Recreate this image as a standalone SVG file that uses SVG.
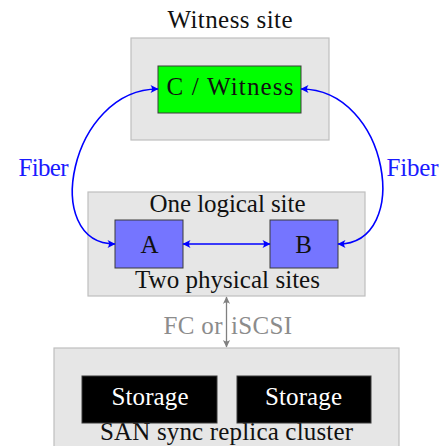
<svg xmlns="http://www.w3.org/2000/svg" width="447" height="446" viewBox="0 0 447 446">
  <style>
    .site { fill: #e6e6e6; stroke: #bfbfbf; stroke-width: 1.2; }
    .node { stroke: #3a3a3a; stroke-width: 1; }
    .lbl { font-family: "Liberation Serif", "Times New Roman", serif; font-size: 25px; fill: #111; text-anchor: middle; }
    .fiber { fill: #1a1aff; }
    .proto { fill: #8c8c8c; text-anchor: start; }
    .store { fill: #ffffff; }
    .link { fill: none; stroke: #0000ff; stroke-width: 1.6; }
    .wire { fill: none; stroke: #808080; stroke-width: 1.3; }
  </style>
  <defs>
    <marker id="tip-blue" viewBox="-9 -5 10 10" refX="0" refY="0" markerWidth="10" markerHeight="10" markerUnits="userSpaceOnUse" orient="auto-start-reverse">
      <path d="M0.5,0 L-7.5,-4 Q-4.5,0 -7.5,4 Z" fill="#0000ff"/>
    </marker>
    <marker id="tip-gray" viewBox="-9 -5 10 10" refX="0" refY="0" markerWidth="10" markerHeight="10" markerUnits="userSpaceOnUse" orient="auto-start-reverse">
      <path d="M0.5,0 L-7,-3.6 Q-4.2,0 -7,3.6 Z" fill="#808080"/>
    </marker>
  </defs>

  <!-- site containers -->
  <g id="witness-site">
    <rect class="site" x="131" y="38" width="198" height="102"/>
    <text class="lbl" x="230" y="28" textLength="125">Witness site</text>
  </g>
  <g id="logical-site">
    <rect class="site" x="88" y="192" width="277" height="104"/>
    <text class="lbl" x="227.5" y="211.5" textLength="156">One logical site</text>
    <text class="lbl" x="227.5" y="288" textLength="185">Two physical sites</text>
  </g>
  <g id="san-cluster">
    <rect class="site" x="54" y="348" width="345" height="104"/>
    <text class="lbl" x="226.5" y="440" textLength="253">SAN sync replica cluster</text>
  </g>

  <!-- nodes -->
  <g id="witness">
    <rect class="node" x="158" y="66" width="143" height="47" fill="#00ff00"/>
    <text class="lbl" x="230" y="95" textLength="127">C / Witness</text>
  </g>
  <g id="site-a">
    <rect class="node" x="115" y="220" width="68" height="48" fill="#7575ff"/>
    <text class="lbl" x="149.5" y="252.5">A</text>
  </g>
  <g id="site-b">
    <rect class="node" x="270" y="220" width="68" height="48" fill="#7575ff"/>
    <text class="lbl" x="303.5" y="252.5">B</text>
  </g>
  <g id="storage-1">
    <rect class="node" x="82" y="376" width="135" height="47" fill="#000000" stroke="#555"/>
    <text class="lbl store" x="150" y="405" textLength="77">Storage</text>
  </g>
  <g id="storage-2">
    <rect class="node" x="237" y="376" width="134" height="47" fill="#000000" stroke="#555"/>
    <text class="lbl store" x="303.5" y="405" textLength="77">Storage</text>
  </g>

  <!-- connectors -->
  <g id="connectors">
    <path class="link" d="M158,89 C70,89 40,244 115,244" marker-start="url(#tip-blue)" marker-end="url(#tip-blue)"/>
    <path class="link" d="M301,89 C389,89 413,244 338,244" marker-start="url(#tip-blue)" marker-end="url(#tip-blue)"/>
    <path class="link" d="M183,244 L270,244" marker-start="url(#tip-blue)" marker-end="url(#tip-blue)"/>
    <text class="lbl fiber" x="43.5" y="175.5" textLength="50">Fiber</text>
    <text class="lbl fiber" x="412.5" y="175.5" textLength="52">Fiber</text>
    <path class="wire" d="M226.5,297 L226.5,347" marker-start="url(#tip-gray)" marker-end="url(#tip-gray)"/>
    <text class="lbl proto" y="334"><tspan x="163.5" textLength="59">FC or</tspan> <tspan x="231" textLength="61">iSCSI</tspan></text>
  </g>
</svg>
